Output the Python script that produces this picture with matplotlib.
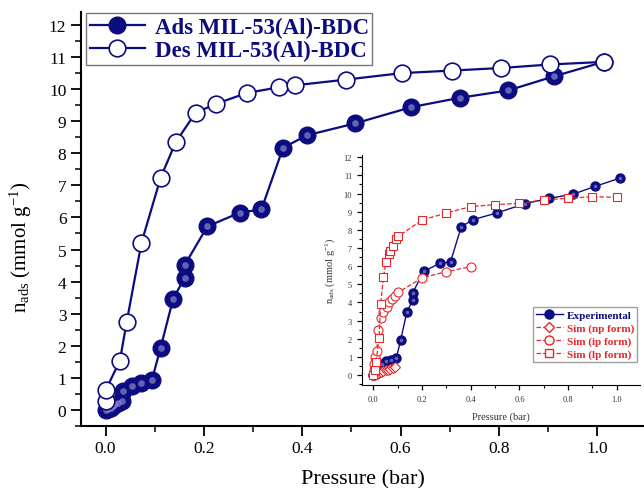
import matplotlib
matplotlib.use("Agg")
from matplotlib import pyplot as plt
from matplotlib.ticker import MultipleLocator

plt.rcParams['font.family'] = ['Liberation Serif', 'DejaVu Serif']
plt.rcParams['mathtext.fontset'] = 'custom'
plt.rcParams['mathtext.rm'] = 'Liberation Serif'
plt.rcParams['mathtext.it'] = 'Liberation Serif:italic'

navy = '#0c0c80'
red = '#e8262b'

# adsorption (experimental)
ads_p = [0.0, 0.005, 0.01, 0.015, 0.02, 0.025, 0.033, 0.035, 0.053, 0.073, 0.094,
         0.112, 0.1375, 0.161, 0.161, 0.207, 0.273, 0.317, 0.361, 0.409, 0.507,
         0.622, 0.72, 0.819, 0.912, 1.013]
ads_n = [0.0, 0.03, 0.07, 0.12, 0.18, 0.22, 0.29, 0.59, 0.75, 0.85, 0.92,
         1.94, 3.47, 4.12, 4.52, 5.72, 6.15, 6.25, 8.17, 8.56, 8.93,
         9.44, 9.73, 9.96, 10.4, 10.85]
# desorption
des_p = [0.0, 0.0, 0.029, 0.043, 0.073, 0.112, 0.143, 0.183, 0.224, 0.287,
         0.353, 0.385, 0.49, 0.602, 0.704, 0.805, 0.904, 1.013]
des_n = [0.28, 0.61, 1.53, 2.75, 5.21, 7.24, 8.36, 9.26, 9.54, 9.88,
         10.06, 10.12, 10.3, 10.5, 10.58, 10.66, 10.77, 10.85]

# simulations (inset)
np_p = [0.0, 0.005, 0.01, 0.02, 0.03, 0.04, 0.05, 0.06, 0.07, 0.08, 0.089]
np_n = [0.0, 0.02, 0.05, 0.1, 0.15, 0.2, 0.25, 0.3, 0.35, 0.4, 0.45]
ip_p = [0.0, 0.002, 0.004, 0.007, 0.014, 0.02, 0.03, 0.041, 0.055, 0.066,
        0.075, 0.089, 0.103, 0.2, 0.3, 0.4]
ip_n = [0.0, 0.25, 0.6, 1.0, 1.35, 2.5, 3.15, 3.46, 3.73, 4.01,
        4.19, 4.38, 4.56, 5.35, 5.7, 5.97]
lp_p = [0.0, 0.005, 0.011, 0.023, 0.03, 0.041, 0.052, 0.062, 0.069, 0.08,
        0.092, 0.103, 0.2, 0.3, 0.4, 0.5, 0.6, 0.7, 0.8, 0.9, 1.0]
lp_n = [0.0, 0.3, 0.7, 2.03, 3.92, 5.39, 6.25, 6.67, 6.85, 7.13,
        7.5, 7.65, 8.54, 8.93, 9.28, 9.39, 9.46, 9.65, 9.74, 9.83, 9.79]

fig = plt.figure(figsize=(6.44, 4.89), dpi=100)
ax = fig.add_axes([0.1258, 0.127, 0.874, 0.846])


def sphere(a, x, y, ms, lw):
    a.plot(x, y, '-', color=navy, lw=lw, marker='o', ms=ms, mfc=navy, mec=navy)
    a.plot(x, y, 'o', ms=ms * 0.4, mfc='#8888cc', mec='none', alpha=0.7)


sphere(ax, ads_p, ads_n, 12, 1.6)
ax.plot(des_p, des_n, '-', color=navy, lw=1.6, marker='o', ms=12,
        mfc='white', mec=navy, mew=1.2)

# legend handles
h1, = ax.plot([], [], '-', color=navy, lw=1.6, marker='o', ms=12, mfc=navy, mec=navy)
h2, = ax.plot([], [], '-', color=navy, lw=1.6, marker='o', ms=12, mfc='white',
              mec=navy, mew=1.2)
leg = ax.legend([h1, h2], ['Ads MIL-53(Al)-BDC', 'Des MIL-53(Al)-BDC'],
                loc='upper left', bbox_to_anchor=(0.009, 0.998), fancybox=False,
                edgecolor='#555555', prop={'weight': 'bold', 'size': 16.5},
                handlelength=2.4, handletextpad=0.45, borderpad=0.15,
                labelspacing=0.1, borderaxespad=0)
for t in leg.get_texts():
    t.set_color(navy)

ax.set_xlim(-0.05, 1.095)
ax.set_ylim(-0.5, 12.4)
ax.xaxis.set_major_locator(MultipleLocator(0.2))
ax.xaxis.set_minor_locator(MultipleLocator(0.1))
ax.yaxis.set_major_locator(MultipleLocator(1))
ax.yaxis.set_minor_locator(MultipleLocator(0.5))
ax.set_xticks([0.0, 0.2, 0.4, 0.6, 0.8, 1.0])
ax.set_xticklabels(['0.0', '0.2', '0.4', '0.6', '0.8', '1.0'])
ax.tick_params(which='major', direction='out', length=7, width=1.3, labelsize=12.5)
ax.tick_params(which='minor', direction='out', length=4, width=1.1)
for s in ['top', 'right']:
    ax.spines[s].set_visible(False)
for s in ['left', 'bottom']:
    ax.spines[s].set_linewidth(1.5)
ax.set_xlabel('Pressure (bar)', fontsize=16, labelpad=9)
ax.set_ylabel(r'n$_{\mathrm{ads}}$ (mmol g$^{\mathrm{-1}}$)', fontsize=15)
ax.yaxis.set_label_coords(-0.084, 0.435)

# inset
ins = fig.add_axes([0.5617, 0.2106, 0.4324, 0.4695])
sphere(ins, ads_p, ads_n, 6.5, 1.0)
ins.plot(np_p, np_n, '--', color=red, lw=0.9, marker='D', ms=5, mfc='white', mec=red, mew=0.8)
ins.plot(ip_p, ip_n, '--', color=red, lw=0.9, marker='o', ms=6.5, mfc='white', mec=red, mew=0.8)
ins.plot(lp_p, lp_n, '--', color=red, lw=0.9, marker='s', ms=6, mfc='white', mec=red, mew=0.8)

g1, = ins.plot([], [], '-', color=navy, lw=1.0, marker='o', ms=6.5, mfc=navy, mec=navy)
g2, = ins.plot([], [], '--', color=red, lw=0.9, marker='D', ms=5.5, mfc='white', mec=red)
g3, = ins.plot([], [], '--', color=red, lw=0.9, marker='o', ms=6.5, mfc='white', mec=red)
g4, = ins.plot([], [], '--', color=red, lw=0.9, marker='s', ms=6, mfc='white', mec=red)
leg2 = ins.legend([g1, g2, g3, g4],
                  ['Experimental', 'Sim (np form)', 'Sim (ip form)', 'Sim (lp form)'],
                  loc='lower right', bbox_to_anchor=(0.99, 0.1), fancybox=False,
                  edgecolor='#888888', prop={'weight': 'bold', 'size': 8},
                  handlelength=2.4, handletextpad=0.35, borderpad=0.3,
                  labelspacing=0.25, borderaxespad=0)
for t, c in zip(leg2.get_texts(), [navy, red, red, red]):
    t.set_color(c)

ins.set_xlim(-0.048, 1.096)
ins.set_ylim(-0.55, 12.1)
ins.xaxis.set_major_locator(MultipleLocator(0.2))
ins.xaxis.set_minor_locator(MultipleLocator(0.1))
ins.yaxis.set_major_locator(MultipleLocator(1))
ins.yaxis.set_minor_locator(MultipleLocator(0.5))
ins.set_xticks([0.0, 0.2, 0.4, 0.6, 0.8, 1.0])
ins.set_xticklabels(['0.0', '0.2', '0.4', '0.6', '0.8', '1.0'])
ins.tick_params(which='major', direction='out', length=3.5, width=0.9, labelsize=6,
                labelcolor='#333333')
ins.tick_params(which='minor', direction='out', length=2, width=0.8)
for s in ['top', 'right']:
    ins.spines[s].set_visible(False)
ins.set_xlabel('Pressure (bar)', fontsize=7.5, labelpad=6, color='#333333')
ins.set_ylabel(r'n$_{\mathrm{ads}}$ (mmol g$^{\mathrm{-1}}$)', fontsize=7.5, labelpad=5,
               color='#333333')

fig.savefig('out.png', dpi=100)
